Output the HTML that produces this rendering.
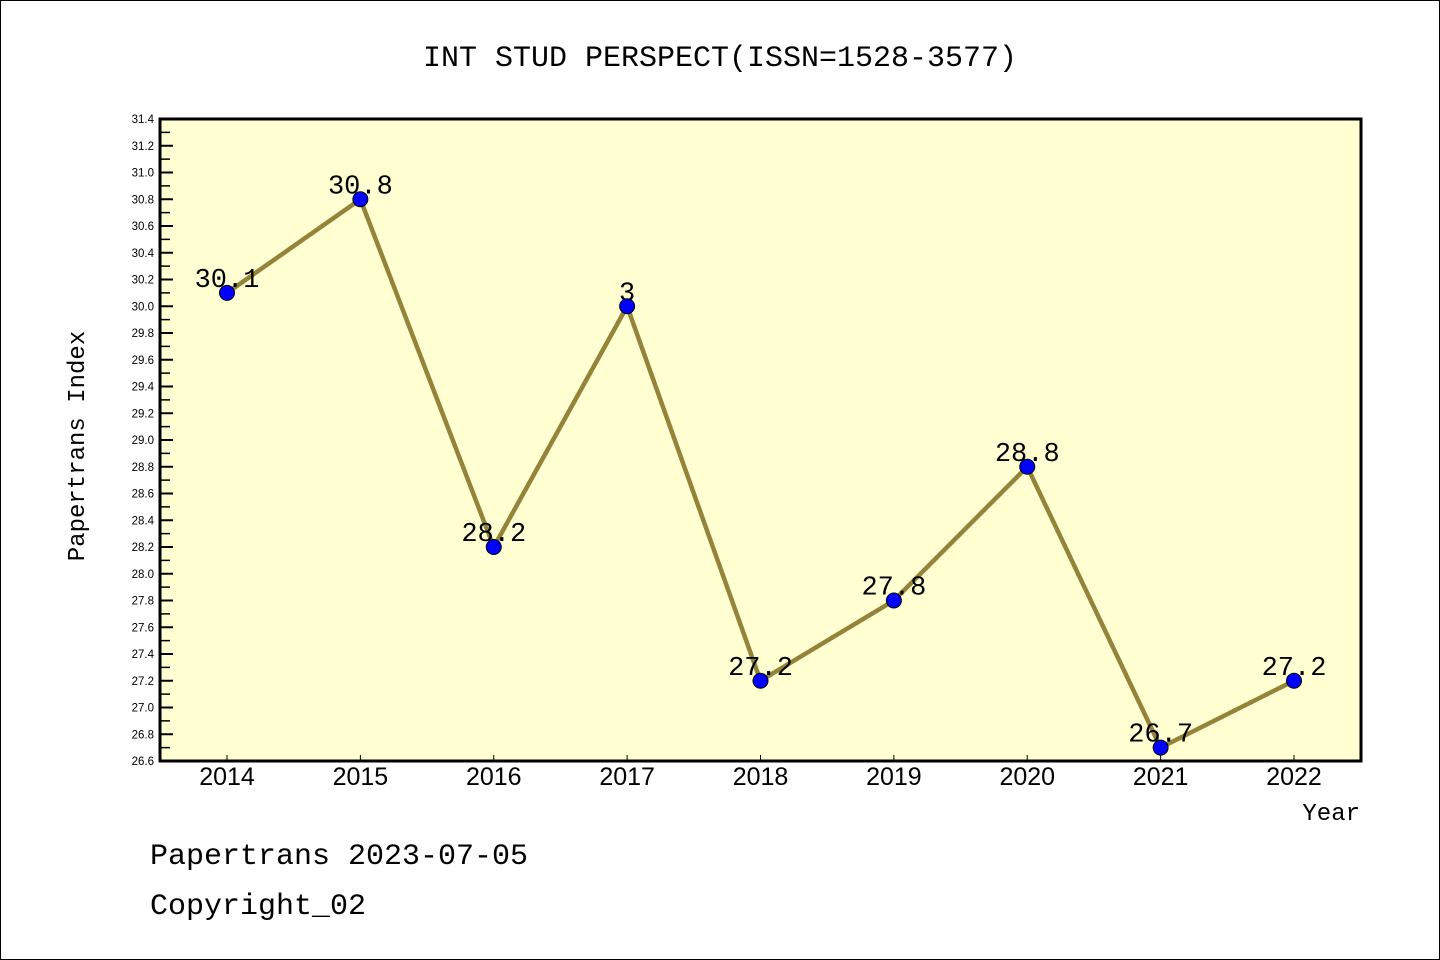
<!DOCTYPE html>
<html><head><meta charset="utf-8"><style>
html,body{margin:0;padding:0;background:#fff}
svg{display:block}
text{font-family:"Liberation Sans","WenQuanYi Zen Hei",sans-serif}
.mono{font-family:"Liberation Mono","WenQuanYi Zen Hei",monospace}
</style></head><body>
<svg id="c" width="1440" height="960" xmlns="http://www.w3.org/2000/svg">
<rect x="0.5" y="0.5" width="1439" height="959" fill="#fff" stroke="#000"/>
<text class="mono" x="720" y="66" font-size="30" text-anchor="middle">INT STUD PERSPECT(ISSN=1528-3577)</text>
<rect x="160" y="119" width="1201" height="642" fill="#ffffd2"/>
<g id="yax"></g>
<g id="xax"></g>
<g id="series"></g>
<rect x="160" y="119" width="1201" height="642" fill="none" stroke="#000" stroke-width="3"/>
<text class="mono" x="84" y="446" font-size="24" text-anchor="middle" transform="rotate(-90 84 446)">Papertrans Index</text>
<text class="mono" x="1360" y="820" font-size="24" text-anchor="end">Year</text>
<text class="mono" x="150" y="864" font-size="30">Papertrans 2023-07-05</text>
<text class="mono" x="150" y="914" font-size="30">Copyright_02</text>
</svg>
<script>
const years = ["2014","2015","2016","2017","2018","2019","2020","2021","2022"];
const values = [30.1,30.8,28.2,30.0,27.2,27.8,28.8,26.7,27.2];
const pointLabels = ["30.1","30.8","28.2","3","27.2","27.8","28.8","26.7","27.2"];
const yTicks = [26.6,26.8,27.0,27.2,27.4,27.6,27.8,28.0,28.2,28.4,28.6,28.8,29.0,29.2,29.4,29.6,29.8,30.0,30.2,30.4,30.6,30.8,31.0,31.2,31.4];
const NS="http://www.w3.org/2000/svg";
const L=160,R=1361,T=119,B=761,ymin=26.6,ymax=31.4;
const y=v=>B-(v-ymin)/(ymax-ymin)*(B-T);
const x=i=>227+i*(1294-227)/8;
function mk(tag,attrs,parent){const e=document.createElementNS(NS,tag);for(const k in attrs)e.setAttribute(k,attrs[k]);parent.appendChild(e);return e;}
const yax=document.getElementById('yax'),xax=document.getElementById('xax'),s=document.getElementById('series');
yTicks.forEach((t,i)=>{
  const ln=mk('line',{x1:L,x2:L+13,y1:y(t),y2:y(t),stroke:'#000','stroke-width':2},yax);
  
  
  if(i<yTicks.length-1){const m=mk('line',{x1:L,x2:L+10,y1:y(t+0.1),y2:y(t+0.1),stroke:'#000','stroke-width':1.5},yax);
    
    }
  const tx=mk('text',{x:L-6,y:y(t)+4,'font-size':11.5,'text-anchor':'end'},yax);tx.textContent=t.toFixed(1);
  
  
});
years.forEach((yr,i)=>{
  const ln=mk('line',{x1:x(i),x2:x(i),y1:B,y2:B-6,stroke:'#000','stroke-width':1},xax);
  
  
  const tx=mk('text',{x:x(i),y:785,'font-size':25,'text-anchor':'middle'},xax);tx.textContent=yr;
  
  
});
const pl=mk('polyline',{points:values.map((v,i)=>x(i)+','+y(v)).join(' '),fill:'none',stroke:'#948339','stroke-width':4.5},s);


values.forEach((v,i)=>{
  const tx=mk('text',{x:x(i),y:y(v)-6,'font-size':27,'text-anchor':'middle','class':'mono'},s);tx.textContent=pointLabels[i];
  
  
});
values.forEach((v,i)=>{
  const c=mk('circle',{cx:x(i),cy:y(v),r:7.5,fill:'#0000ff',stroke:'#000','stroke-width':1},s);
  
  
});
</script>
</body></html>
